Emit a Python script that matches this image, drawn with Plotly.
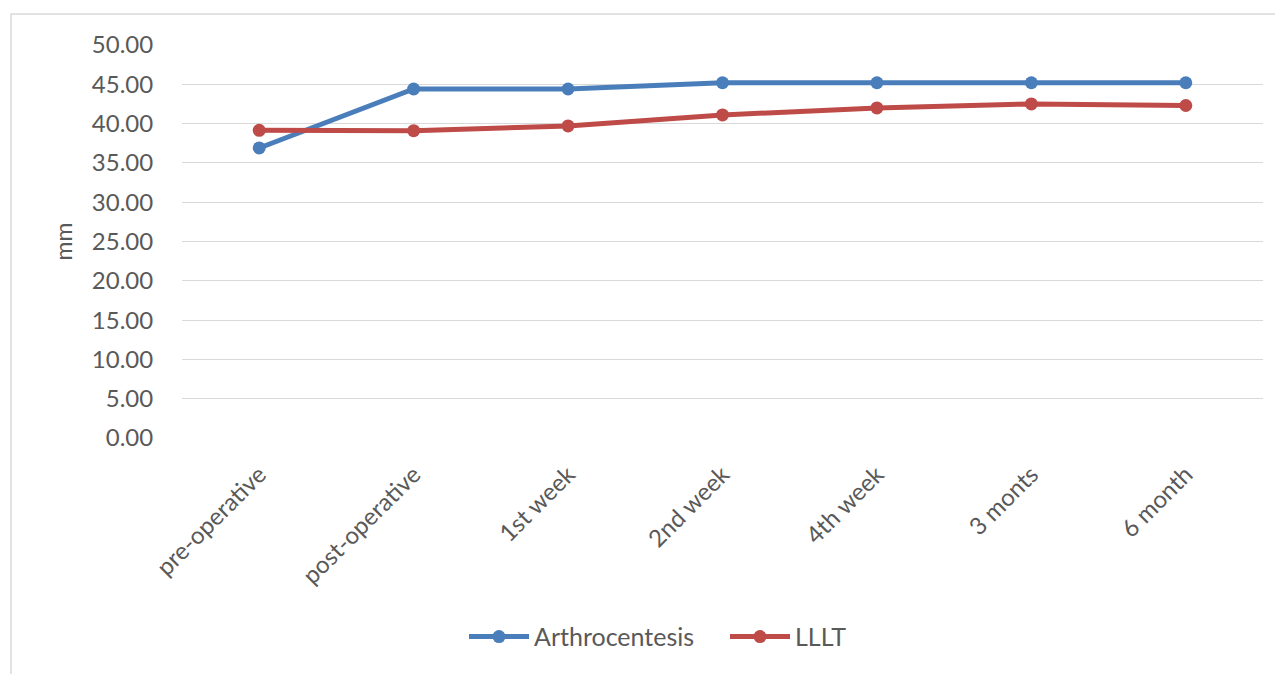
import plotly.graph_objects as go

categories = ["pre-operative", "post-operative", "1st week", "2nd week", "4th week", "3 monts", "6 month"]
arthrocentesis = [36.9, 44.4, 44.4, 45.2, 45.2, 45.2, 45.2]
lllt = [39.15, 39.1, 39.7, 41.1, 42.0, 42.5, 42.3]
y_ticks = [0, 5, 10, 15, 20, 25, 30, 35, 40, 45, 50]

FONT = "Lato, 'Open Sans', sans-serif"
GRAY = "#595959"

fig = go.Figure()
fig.add_trace(go.Scatter(x=categories, y=arthrocentesis, name="Arthrocentesis", mode="lines+markers",
                         line=dict(color="#4a7ebb", width=5), marker=dict(size=13, color="#4a7ebb")))
fig.add_trace(go.Scatter(x=categories, y=lllt, name="LLLT", mode="lines+markers",
                         line=dict(color="#be4b48", width=5), marker=dict(size=13, color="#be4b48")))

fig.update_layout(
    width=1283, height=674,
    margin=dict(l=174, r=28, t=37, b=244),
    paper_bgcolor="white", plot_bgcolor="white",
    font=dict(family=FONT, size=23, color=GRAY),
    showlegend=True,
    legend=dict(orientation="h", x=(464 - 182) / 1081, xanchor="left", y=-0.506, yanchor="middle",
                font=dict(size=25, color=GRAY), itemwidth=60, entrywidth=186, entrywidthmode="pixels",
                traceorder="normal"),
    xaxis=dict(type="category", tickangle=-45, showgrid=False, showline=False, zeroline=False,
               ticks="outside", ticklen=12, tickcolor="rgba(0,0,0,0)",
               tickfont=dict(size=24, color=GRAY), range=[-0.5, 6.5]),
    yaxis=dict(range=[0, 50], tickvals=y_ticks, tickformat=".2f", showgrid=True,
               gridcolor="#d9d9d9", gridwidth=1, zeroline=False, showline=False,
               ticks="outside", ticklen=23, tickcolor="rgba(0,0,0,0)",
               tickfont=dict(size=24, color=GRAY),
               title=dict(text="mm", font=dict(size=23, color=GRAY), standoff=12)),
    shapes=[dict(type="rect", xref="paper", yref="paper",
                 x0=(11 - 182) / 1081, x1=(1290 - 182) / 1081,
                 y0=(437 - 690) / 393, y1=(437 - 13) / 393,
                 line=dict(color="#d9d9d9", width=1.5), fillcolor="rgba(0,0,0,0)", layer="below")],
)

fig.write_html("out.html")
